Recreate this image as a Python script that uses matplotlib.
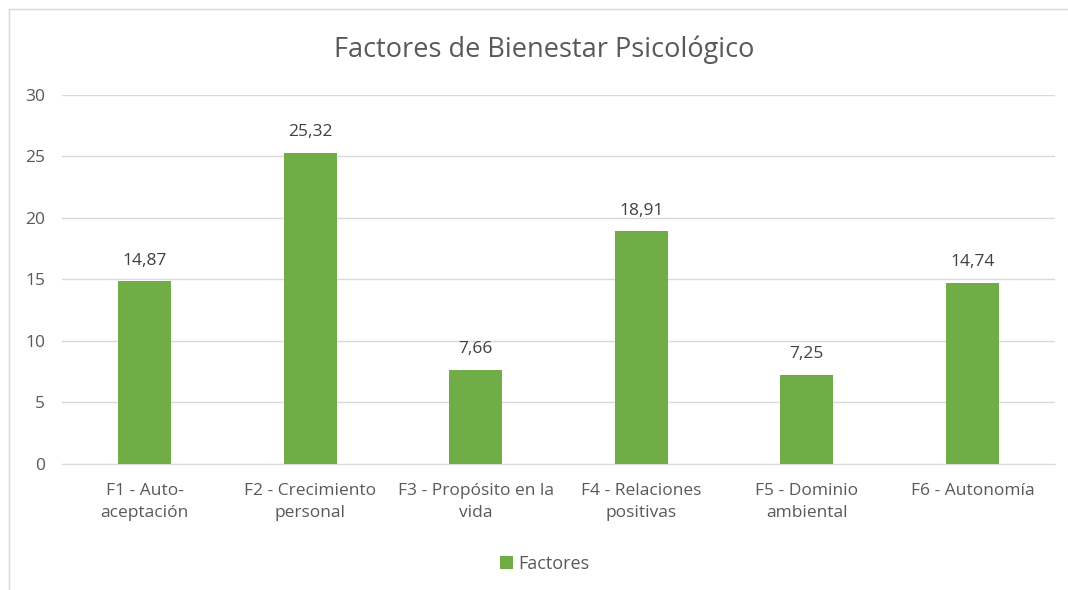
import matplotlib
matplotlib.use("Agg")
import matplotlib.pyplot as plt
from matplotlib.patches import Rectangle

plt.rcParams['font.family'] = ['Open Sans', 'DejaVu Sans']

# datos del grafico
factores = ['F1 - Auto-\naceptación', 'F2 - Crecimiento\npersonal',
            'F3 - Propósito en la\nvida', 'F4 - Relaciones\npositivas',
            'F5 - Dominio\nambiental', 'F6 - Autonomía']
valores = [14.87, 25.32, 7.66, 18.91, 7.25, 14.74]
etiquetas = ['14,87', '25,32', '7,66', '18,91', '7,25', '14,74']
yticks = [0, 5, 10, 15, 20, 25, 30]

gris = '#595959'
verde = '#70ad47'

fig = plt.figure(figsize=(10.68, 5.90), dpi=100)
# marco exterior del grafico
fig.patches.append(Rectangle((9 / 1068, -0.01), 1.02, 1 - 9 / 590 + 0.01,
                             transform=fig.transFigure, fill=False,
                             edgecolor='#d9d9d9', linewidth=1))

ax = fig.add_axes([0.058, 0.2136, 0.93, 0.6254])
x = range(len(factores))
barras = ax.bar(x, valores, width=0.32, color=verde, label='Factores', zorder=3)

for b, t in zip(barras, etiquetas):
    ax.annotate(t, (b.get_x() + b.get_width() / 2, b.get_height()),
                xytext=(0, 9), textcoords='offset points', ha='center',
                va='bottom', fontsize=12.5, color='#404040')

ax.set_xlim(-0.5, 5.5)
ax.set_ylim(0, 30)
ax.set_yticks(yticks)
ax.set_xticks(list(x))
ax.set_xticklabels(factores, fontsize=12.5, color=gris, linespacing=1.45)
ax.tick_params(axis='y', labelsize=12.5, labelcolor=gris, length=0, pad=12)
ax.tick_params(axis='x', length=0, pad=14)
ax.grid(axis='y', color='#d9d9d9', linewidth=1, zorder=0)
for s in ['top', 'right', 'left']:
    ax.spines[s].set_visible(False)
ax.spines['bottom'].set_color('#d9d9d9')

fig.suptitle('Factores de Bienestar Psicológico', x=0.51, y=0.94,
             fontsize=19.5, color=gris)
fig.legend(loc='center', bbox_to_anchor=(0.51, 0.044), frameon=False,
           fontsize=13, labelcolor=gris, handlelength=0.7, handleheight=0.7,
           handletextpad=0.3)

fig.savefig('out.png', dpi=100)
